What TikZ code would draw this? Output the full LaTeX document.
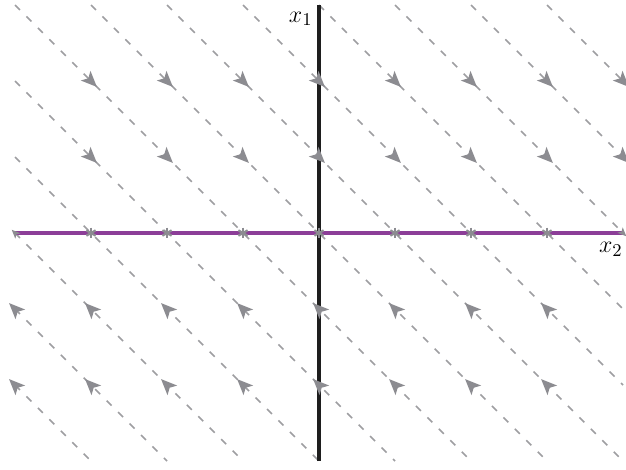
\documentclass[tikz,border=0pt]{standalone}
\usetikzlibrary{calc}
\definecolor{flowgray}{RGB}{158,158,161}
\definecolor{headgray}{RGB}{140,140,145}
\definecolor{axispurple}{RGB}{140,62,152}
\definecolor{axisblack}{RGB}{30,30,30}
\begin{document}
\begin{tikzpicture}[x=38pt,y=38pt,
  flow/.style={draw=flowgray, line width=0.8pt, dash pattern=on 3.5pt off 4.6pt},
  axisline/.style={line width=2pt},
  lbl/.style={inner sep=0pt, font=\fontsize{13}{15}\selectfont},
  ahead/.pic={\fill[headgray] (0.11,0) -- (-0.1,0.09) -- (-0.05,0) -- (-0.1,-0.09) -- cycle;},
  starmark/.pic={\foreach \a in {30,90,150}{\draw[headgray, line width=1.1pt] (\a:0.07) -- (\a+180:0.07);}}
]
\useasboundingbox (-4.1974,-3.1053) rectangle (4.0395,3.0658);
% trajectories x1 + x2 = c
\foreach \c in {-6,...,6}{
  \pgfmathsetmacro\xa{max(-4,\c-3)}
  \pgfmathsetmacro\xb{min(4,\c+3)}
  \pgfmathsetmacro\ya{\c-\xa}
  \pgfmathsetmacro\yb{\c-\xb}
  \draw[flow] (\xa,\ya) -- (\xb,\yb);
}
% axes
\coordinate (vtop) at (0,3);
\coordinate (vbot) at (0,-3);
\coordinate (hleft) at (-4,0);
\coordinate (hright) at (4,0);
\draw[axisline, axisblack] (vbot) -- (vtop);
\draw[axisline, axispurple] (hleft) -- (hright);
% arrowheads
\foreach \y in {1,2}{\foreach \x in {-3,...,4}{\pic[rotate=-45] at (\x,\y) {ahead};}}
\foreach \y in {-1,-2}{\foreach \x in {-4,...,3}{\pic[rotate=135] at (\x,\y) {ahead};}}
\foreach \x in {-3,...,3}{\pic at (\x,0) {starmark};}
\pic[rotate=135, scale=0.55] at (hleft) {ahead};
\pic[rotate=-45, scale=0.55] at (hright) {ahead};
% labels
\node[lbl, anchor=east] (lx1) at (-0.08,2.816) {$x_1$};
\node[lbl, anchor=north east] (lx2) at (4,-0.118) {$x_2$};
\end{tikzpicture}
\end{document}
